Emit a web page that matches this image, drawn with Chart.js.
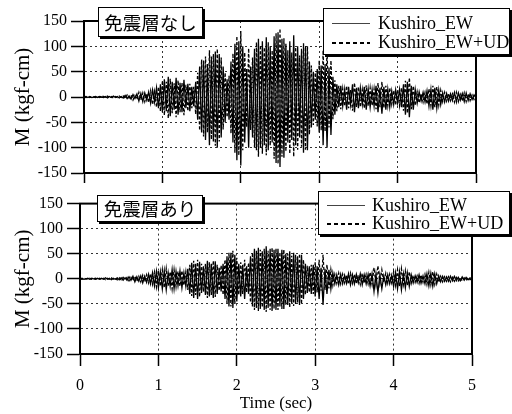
<!DOCTYPE html>
<html><head><meta charset="utf-8">
<script src="https://cdn.jsdelivr.net/npm/chart.js@4/dist/chart.umd.min.js"></script>
<style>
html,body{margin:0;padding:0;background:#fff;}
body{width:512px;height:414px;position:relative;overflow:hidden;font-family:"Liberation Serif",serif;}
canvas{position:absolute;left:0;}
#c1{top:0;}
#c2{top:190px;}
.ttl{position:absolute;box-sizing:border-box;background:#fff;border:1.5px solid #000;box-shadow:2px 2px 0 #000;font-family:"Noto Sans CJK JP",sans-serif;font-size:18.5px;line-height:1;display:flex;align-items:center;justify-content:center;color:#000;}
.leg{position:absolute;box-sizing:border-box;background:#fff;border:1.5px solid #000;box-shadow:2px 2px 0 #000;color:#000;}
.leg span{position:absolute;font-family:"Liberation Serif",serif;font-size:18px;line-height:1;white-space:nowrap;}
.ls{position:absolute;height:1px;background:#444;}
.ld{position:absolute;height:1.5px;background:repeating-linear-gradient(90deg,#000 0 4px,transparent 4px 7px);}
</style></head>
<body>
<canvas id="c1" width="512" height="190"></canvas>
<canvas id="c2" width="512" height="224"></canvas>
<div class="ttl" style="left:98px;top:7px;width:105px;height:30px;">免震層なし</div>
<div class="ttl" style="left:97px;top:195px;width:106px;height:27px;">免震層あり</div>
<div class="leg" style="left:323px;top:8px;width:187px;height:47px;">
  <div class="ls" style="left:8px;top:14px;width:38px;"></div>
  <span style="left:54px;top:5px;">Kushiro_EW</span>
  <div class="ld" style="left:8px;top:33px;width:38px;"></div>
  <span style="left:54px;top:24px;">Kushiro_EW+UD</span>
</div>
<div class="leg" style="left:318px;top:191px;width:192px;height:44px;">
  <div class="ls" style="left:8px;top:13px;width:38px;"></div>
  <span style="left:53px;top:4px;">Kushiro_EW</span>
  <div class="ld" style="left:8px;top:31px;width:38px;"></div>
  <span style="left:53px;top:22px;">Kushiro_EW+UD</span>
</div>
<script>
// sampling interval of the read-off time histories (sec)
const DT = 0.025;
const xTicks = [0, 1, 2, 3, 4, 5];
const yTicks = [-150, -100, -50, 0, 50, 100, 150];
const seriesNames = ["Kushiro_EW", "Kushiro_EW+UD"];
const panelTitles = ["免震層なし", "免震層あり"];

// 免震層なし (without isolation layer)
const noIsoEW = [
  0, 1, -1, 1, -1, 0, 1, -1, 1, 0,
  -1, 1, -2, 1, -1, 2, -1, 1, -2, 1,
  -2, 3, -3, 2, -4, 5, -3, 6, -8, 7,
  -9, 8, -6, 10, -12, 14, -10, 18, -22, 25,
  -30, 35, -28, 40, -38, 30, -25, 38, -35, 28,
  -30, 34, -22, 26, -28, 20, -18, 30, -45, 60,
  -70, 72, -85, 65, -95, 80, -88, 90, -100, 85,
  -80, 60, -50, 35, -45, 70, -90, 105, -125, 110,
  -135, 100, -90, 55, -100, 60, -80, 95, -105, 115,
  -100, 110, -95, 118, -105, 100, -90, 120, -130, 128,
  -138, 115, -120, 105, -90, 110, -85, 122, -95, 100,
  -80, 95, -110, 100, -105, 70, -60, 50, -45, 55,
  -70, 62, -95, 65, -100, 58, -75, 40, -35, 25,
  -20, 22, -18, 15, -25, 20, -15, 25, -30, 18,
  -22, 18, -15, 20, -25, 16, -20, 15, -18, 22,
  -30, 18, -33, 20, -25, 15, -20, 12, -15, 14,
  -12, 15, -20, 25, -35, 30, -40, 22, -25, 15,
  -12, 10, -8, 9, -10, 12, -18, 15, -25, 18,
  -22, 14, -15, 8, -10, 7, -8, 6, -7, 9,
  -10, 8, -6, 7, -9, 8, -7, 6, -5, 4, -2
];
const noIsoEWUD = [
  0, -1, 1, -1, 1, 0, -1, 1, -1, 1,
  1, -1, 2, -1, 1, -2, 1, -1, 2, -1,
  2, -3, 4, -2, 4, -6, 3, -5, 9, -6,
  8, -9, 7, -11, 12, -15, 11, -20, 20, -28,
  32, -36, 30, -42, 36, -32, 27, -40, 33, -30,
  28, -36, 24, -28, 26, -22, 20, -34, 48, -66,
  74, -78, 80, -70, 92, -84, 85, -96, 95, -88,
  78, -64, 48, -40, 42, -72, 86, -110, 120, -115,
  130, -105, 88, -60, 96, -65, 78, -100, 108, -118,
  102, -112, 98, -115, 108, -96, 92, -122, 126, -132,
  135, -118, 116, -108, 92, -112, 88, -118, 98, -104,
  82, -98, 106, -104, 100, -74, 62, -55, 48, -58,
  72, -66, 92, -68, 96, -60, 72, -44, 33, -28,
  22, -24, 16, -18, 22, -22, 14, -27, 28, -20,
  20, -20, 14, -22, 23, -18, 18, -17, 16, -24,
  28, -20, 30, -22, 22, -17, 18, -14, 13, -16,
  14, -17, 18, -27, 32, -32, 38, -24, 22, -17,
  10, -12, 7, -10, 9, -14, 16, -17, 22, -20,
  20, -16, 13, -9, 9, -8, 7, -7, 6, -10,
  9, -9, 5, -8, 8, -9, 6, -7, 4, -5, 2
];
// 免震層あり (with isolation layer)
const isoEW = [
  0, 1, -1, 0, 1, -1, 1, 0, -1, 1,
  -1, 1, -1, 2, -1, 1, -2, 1, -1, 2,
  -2, 2, -3, 2, -3, 4, -3, 5, -6, 4,
  -5, 6, -8, 5, -7, 9, -10, 12, -14, 15,
  -18, 14, -20, 16, -22, 12, -15, 18, -20, 15,
  -14, 16, -18, 12, -15, 20, -30, 32, -38, 30,
  -40, 34, -28, 25, -32, 36, -35, 30, -38, 35,
  -30, 22, -25, 30, -40, 45, -55, 52, -58, 48,
  -45, 30, -35, 28, -40, 25, -30, 45, -55, 60,
  -58, 62, -60, 55, -62, 65, -58, 60, -64, 58,
  -62, 60, -55, 58, -60, 50, -52, 55, -48, 52,
  -50, 45, -52, 48, -40, 30, -28, 25, -30, 28,
  -35, 25, -40, 22, -52, 20, -30, 18, -20, 12,
  -10, 8, -12, 9, -10, 7, -9, 10, -12, 8,
  -10, 9, -8, 10, -12, 8, -10, 9, -14, 10,
  -25, 10, -28, 8, -20, 6, -12, 8, -10, 7,
  -15, 12, -20, 14, -22, 10, -18, 12, -15, 8,
  -8, 6, -7, 8, -9, 6, -10, 10, -14, 11,
  -15, 10, -10, 6, -6, 5, -5, 4, -5, 5,
  -4, 5, -4, 3, -4, 4, -3, 3, -2, 2, -1
];
const isoEWUD = [
  0, -1, 1, 0, -1, 1, -1, 0, 1, -1,
  1, -1, 1, -2, 1, -1, 2, -1, 1, -2,
  2, -2, 3, -2, 3, -4, 3, -4, 5, -5,
  5, -6, 7, -6, 8, -8, 10, -11, 13, -16,
  16, -15, 18, -18, 20, -14, 14, -20, 18, -16,
  15, -15, 16, -13, 14, -22, 28, -34, 36, -32,
  38, -36, 30, -26, 30, -38, 33, -32, 36, -36,
  28, -24, 27, -32, 38, -48, 52, -55, 56, -50,
  42, -32, 33, -30, 38, -27, 32, -47, 52, -62,
  56, -64, 58, -57, 60, -66, 56, -62, 62, -60,
  60, -62, 53, -60, 58, -52, 50, -57, 46, -54,
  48, -47, 50, -50, 38, -32, 26, -27, 28, -30,
  33, -27, 38, -24, 48, -22, 28, -19, 18, -13,
  9, -9, 11, -10, 9, -8, 8, -11, 11, -9,
  9, -10, 7, -11, 11, -9, 9, -10, 13, -11,
  22, -12, 26, -9, 18, -7, 11, -9, 9, -8,
  14, -13, 18, -15, 20, -11, 16, -13, 14, -9,
  7, -7, 6, -9, 8, -7, 9, -11, 13, -12,
  14, -11, 9, -7, 5, -6, 4, -5, 4, -6,
  3, -5, 3, -4, 3, -4, 2, -3, 2, -2, 0
];

const framePlugin = {
  id: 'frame',
  afterDatasetsDraw(chart) {
    const {ctx, chartArea: a} = chart;
    ctx.save();
    ctx.strokeStyle = '#000';
    ctx.lineWidth = 2;
    ctx.strokeRect(a.left, a.top, a.right - a.left, a.bottom - a.top);
    ctx.restore();
  }
};

function toPts(arr) { return arr.map((v, i) => ({x: i * DT, y: v})); }

function makeChart(id, ew, ewud, opt) {
  return new Chart(document.getElementById(id), {
    type: 'line',
    data: {
      datasets: [
        {label: seriesNames[1], data: toPts(ewud), borderColor: '#000', borderWidth: 1.3, borderDash: [3, 2], pointRadius: 0, tension: 0},
        {label: seriesNames[0], data: toPts(ew), borderColor: '#000', borderWidth: 1.3, pointRadius: 0, tension: 0}
      ]
    },
    options: {
      responsive: false, animation: false, devicePixelRatio: 1,
      layout: {padding: {top: opt.padTop, right: opt.padRight, left: 0, bottom: 0}},
      plugins: {legend: {display: false}, tooltip: {enabled: false}},
      scales: {
        x: {
          type: 'linear', min: 0, max: 5,
          afterBuildTicks: s => { s.ticks = xTicks.map(v => ({value: v})); },
          afterFit: s => { s.height = opt.xHeight; },
          ticks: {display: opt.showX, color: '#000', padding: 10, maxRotation: 0,
                  font: {family: 'Liberation Serif', size: 16}},
          grid: {color: '#333', lineWidth: 1, drawTicks: true, tickLength: opt.xTick, tickColor: '#000', tickWidth: 1.5},
          border: {display: true, color: '#000', width: 2, dash: [2, 3]},
          title: {display: opt.showX, text: 'Time (sec)', color: '#000', padding: {top: 0, bottom: 0},
                  font: {family: 'Liberation Serif', size: 17}}
        },
        y: {
          min: -150, max: 150,
          afterBuildTicks: s => { s.ticks = yTicks.map(v => ({value: v})); },
          afterFit: s => { s.width = opt.yWidth; },
          ticks: {color: '#000', padding: 4, font: {family: 'Liberation Serif', size: 16}},
          grid: {color: '#333', lineWidth: 1, drawTicks: true, tickLength: 13, tickColor: '#000', tickWidth: 1.5},
          border: {display: true, color: '#000', width: 2, dash: [2, 3]},
          title: {display: true, text: 'M (kgf-cm)', color: '#000', padding: {top: 11, bottom: 0},
                  font: {family: 'Liberation Serif', size: 21}}
        }
      }
    },
    plugins: [framePlugin]
  });
}

makeChart('c1', noIsoEW, noIsoEWUD, {padTop: 21, padRight: 36, xHeight: 17, xTick: 10, showX: false, yWidth: 84});
makeChart('c2', isoEW, isoEWUD, {padTop: 11, padRight: 40, xHeight: 60, xTick: 12, showX: true, yWidth: 80});
</script>
</body></html>
